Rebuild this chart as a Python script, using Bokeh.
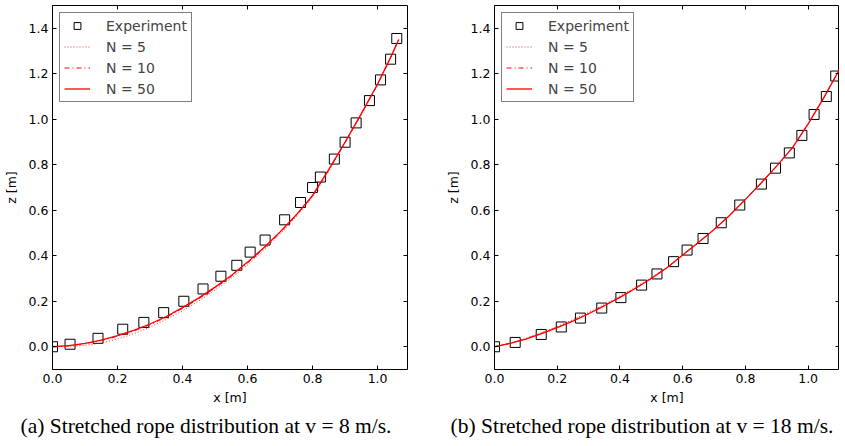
from bokeh.plotting import figure
from bokeh.models import (Range1d, FixedTicker, NumeralTickFormatter, LinearAxis,
                          Title, Legend, LegendItem, CustomJSTickFormatter)
from bokeh.layouts import row
from bokeh.embed import file_html
from bokeh.resources import INLINE

# ---------------- data: panel (a), v = 8 m/s ----------------
a_exp_x = [0.0, 0.054, 0.14, 0.216, 0.281, 0.342, 0.404, 0.463, 0.518, 0.567, 0.608,
           0.654, 0.714, 0.763, 0.80, 0.824, 0.867, 0.90, 0.934, 0.975, 1.009, 1.04, 1.059]
a_exp_z = [0.0, 0.011, 0.037, 0.077, 0.107, 0.15, 0.20, 0.254, 0.31, 0.358, 0.416,
           0.469, 0.558, 0.634, 0.70, 0.746, 0.825, 0.899, 0.984, 1.082, 1.173, 1.264, 1.355]
a_cx = [0.0, 0.05, 0.10, 0.15, 0.20, 0.25, 0.30, 0.35, 0.40, 0.45, 0.50, 0.55,
        0.60, 0.65, 0.70, 0.75, 0.80, 0.85, 0.90, 0.95, 1.00, 1.04, 1.065]
a_n50 = [0.0, 0.005, 0.015, 0.029, 0.049, 0.072, 0.10, 0.133, 0.172, 0.215, 0.262, 0.313,
         0.372, 0.435, 0.505, 0.58, 0.665, 0.78, 0.90, 1.025, 1.155, 1.272, 1.35]
a_n10 = [0.0, 0.004, 0.013, 0.027, 0.046, 0.069, 0.097, 0.130, 0.168, 0.211, 0.258, 0.309,
         0.368, 0.431, 0.501, 0.577, 0.662, 0.777, 0.898, 1.023, 1.153, 1.271, 1.35]
a_n5 = [0.0, 0.002, 0.006, 0.016, 0.034, 0.057, 0.086, 0.12, 0.158, 0.201, 0.249, 0.301,
        0.360, 0.424, 0.495, 0.572, 0.658, 0.772, 0.894, 1.02, 1.15, 1.27, 1.35]

# ---------------- data: panel (b), v = 18 m/s ----------------
b_exp_x = [0.0, 0.066, 0.149, 0.213, 0.274, 0.342, 0.403, 0.469, 0.518, 0.571, 0.614,
           0.665, 0.723, 0.782, 0.851, 0.896, 0.94, 0.98, 1.019, 1.058, 1.088]
b_exp_z = [0.0, 0.019, 0.054, 0.087, 0.126, 0.17, 0.216, 0.271, 0.32, 0.374, 0.425,
           0.476, 0.545, 0.623, 0.715, 0.785, 0.852, 0.929, 1.021, 1.10, 1.19]
b_cx = [0.0, 0.05, 0.10, 0.15, 0.20, 0.25, 0.30, 0.35, 0.40, 0.45, 0.50, 0.55,
        0.60, 0.65, 0.70, 0.75, 0.80, 0.85, 0.90, 0.95, 1.00, 1.05, 1.10]
b_n50 = [0.0, 0.015, 0.034, 0.058, 0.084, 0.113, 0.145, 0.18, 0.217, 0.257, 0.30, 0.347,
         0.403, 0.458, 0.515, 0.578, 0.648, 0.72, 0.795, 0.875, 0.98, 1.095, 1.22]
b_n10 = [0.0, 0.015, 0.035, 0.059, 0.085, 0.114, 0.146, 0.181, 0.218, 0.258, 0.301, 0.348,
         0.403, 0.458, 0.515, 0.578, 0.647, 0.719, 0.794, 0.874, 0.979, 1.094, 1.219]
b_n5 = [0.0, 0.016, 0.037, 0.062, 0.089, 0.119, 0.151, 0.186, 0.223, 0.262, 0.304, 0.35,
        0.404, 0.458, 0.514, 0.576, 0.645, 0.717, 0.792, 0.872, 0.977, 1.092, 1.217]

x_ticks = [0.0, 0.2, 0.4, 0.6, 0.8, 1.0]
y_ticks = [0.0, 0.2, 0.4, 0.6, 0.8, 1.0, 1.2, 1.4]
legend_labels = ["Experiment", "N = 5", "N = 10", "N = 50"]
captions = ["(a) Stretched rope distribution at v = 8 m/s.",
            "(b) Stretched rope distribution at v = 18 m/s."]

SANS = "DejaVu Sans"
RED = "#ff0000"


def style_axis(ax, ticks):
    ax.ticker = FixedTicker(ticks=ticks)
    ax.major_tick_in = 4
    ax.major_tick_out = 0
    ax.minor_tick_in = 0
    ax.minor_tick_out = 0
    ax.major_tick_line_color = "black"
    ax.axis_line_color = None


def make_panel(ex, ez, cx, z5, z10, z50, xmax, caption, cap_offset,
               frame_w, border_left, border_right):
    p = figure(frame_width=frame_w, frame_height=364,
               x_range=Range1d(0, xmax), y_range=Range1d(-0.1, 1.5),
               output_backend="svg", toolbar_location=None,
               min_border_left=border_left, min_border_right=border_right,
               min_border_top=5, min_border_bottom=0)
    p.grid.visible = False
    p.outline_line_color = "black"
    p.outline_line_width = 1
    p.background_fill_color = "white"
    p.border_fill_color = "white"

    xa = p.xaxis[0]
    ya = p.yaxis[0]
    style_axis(xa, x_ticks)
    style_axis(ya, y_ticks)
    for ax in (xa, ya):
        ax.formatter = NumeralTickFormatter(format="0.0")
        ax.major_label_text_font = SANS
        ax.major_label_text_font_size = "12.5px"
        ax.major_label_text_color = "black"
        ax.major_label_standoff = 4
        ax.axis_label_text_font = SANS
        ax.axis_label_text_font_size = "12.5px"
        ax.axis_label_text_font_style = "normal"
        ax.axis_label_text_color = "black"
    xa.axis_label = "x [m]"
    ya.axis_label = "z [m]"
    xa.axis_label_standoff = 4
    ya.axis_label_standoff = 7

    empty = CustomJSTickFormatter(code="return ''")
    for side, ticks in (("right", y_ticks), ("above", x_ticks)):
        ax = LinearAxis(formatter=empty, major_label_standoff=0)
        style_axis(ax, ticks)
        p.add_layout(ax, side)

    r_exp = p.scatter(ex, ez, marker="square", size=10, fill_color=None,
                      line_color="black", line_width=1)
    r5 = p.line(cx, z5, line_color=RED, line_width=1, line_dash="1 2", line_alpha=0.8)
    r10 = p.line(cx, z10, line_color=RED, line_width=1, line_dash="5 3 1 3")
    r50 = p.line(cx, z50, line_color=RED, line_width=1.3)

    legend = Legend(items=[LegendItem(label=legend_labels[0], renderers=[r_exp]),
                           LegendItem(label=legend_labels[1], renderers=[r5]),
                           LegendItem(label=legend_labels[2], renderers=[r10]),
                           LegendItem(label=legend_labels[3], renderers=[r50])],
                    location="top_left", margin=7, padding=4, spacing=4,
                    glyph_width=26, glyph_height=17, label_height=17,
                    label_standoff=16,
                    label_text_font=SANS, label_text_font_size="14px",
                    border_line_color="black", border_line_width=1,
                    background_fill_color="white", background_fill_alpha=1)
    p.add_layout(legend)

    cap = Title(text=caption, align="left")
    cap.text_font = "Liberation Serif"
    cap.text_font_size = "21.5px"
    cap.text_font_style = "normal"
    cap.text_color = "black"
    cap.standoff = 8
    cap.offset = cap_offset
    p.add_layout(cap, "below")
    return p


p1 = make_panel(a_exp_x, a_exp_z, a_cx, a_n5, a_n10, a_n50, 1.092, captions[0], -32,
                355, 41, 1)
p2 = make_panel(b_exp_x, b_exp_z, b_cx, b_n5, b_n10, b_n50, 1.10, captions[1], -44,
                345, 86, 0)

layout = row(p1, p2)
open("out.html", "w").write(file_html(layout, INLINE))
